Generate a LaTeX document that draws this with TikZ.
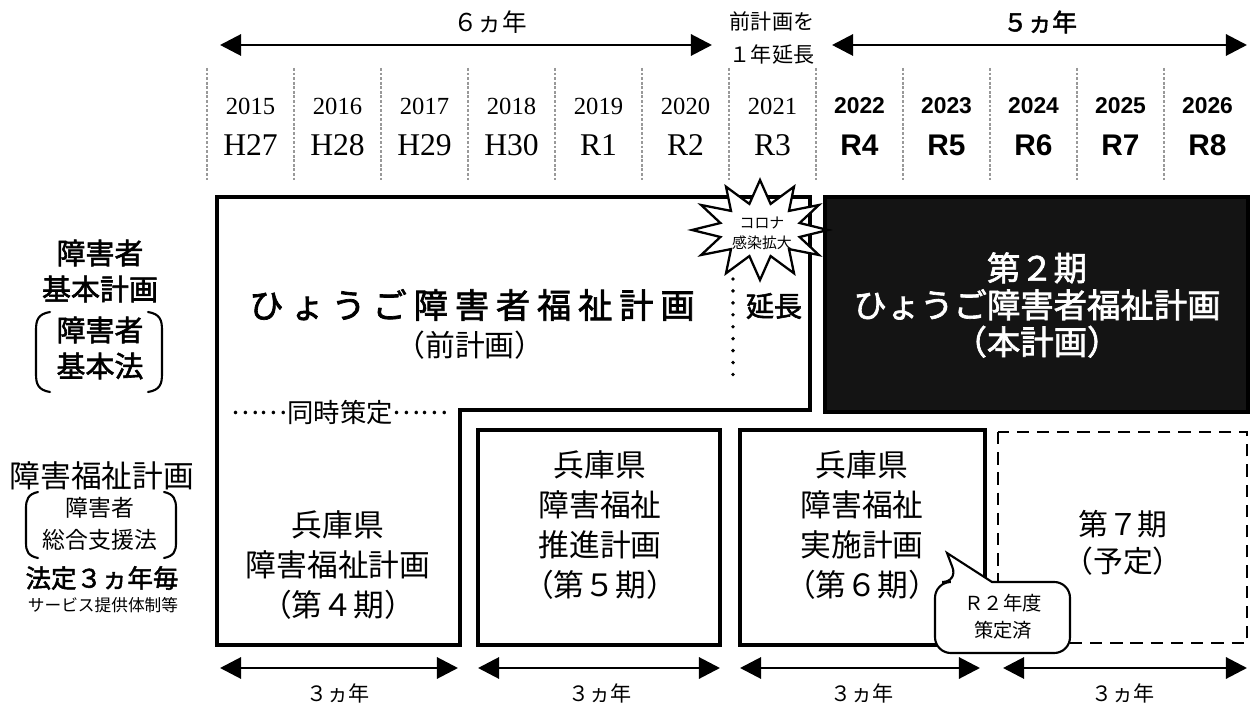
\documentclass[tikz,border=0pt]{standalone}
\usepackage{fontspec}
\setmainfont{Liberation Serif}
\newfontfamily\jp{Noto Sans CJK JP}
\newfontfamily\jpb[FakeBold=2]{Noto Sans CJK JP}
\newfontfamily\lsans{Liberation Sans}
\usetikzlibrary{arrows.meta}
\newcommand\fsz[2]{\fontsize{#1}{#2}\selectfont}
\newcommand\middots{\raisebox{0.3em}{……}}
\begin{document}
\begin{tikzpicture}[x=0.02cm,y=-0.02cm,
  lbl/.style={inner sep=0pt, align=center},
  span/.style={line width=1.7pt, {Triangle[length=12pt,width=12pt]}-{Triangle[length=12pt,width=12pt]}},
  planbox/.style={draw, line width=1.8pt},
  sepline/.style={draw=gray!80, line width=1.6pt, densely dotted},
  bracketline/.style={line width=1.2pt, line cap=round}]
\useasboundingbox (0,0) rectangle (1254,705);

% year separators
\foreach \i in {0,...,11} { \draw[sepline] (207+87*\i,68) -- (207+87*\i,182); }

% years
\foreach \y/\h [count=\i from 0] in {2015/H27,2016/H28,2017/H29,2018/H30,2019/R1,2020/R2,2021/R3} {
  \node[lbl, font=\fsz{14}{16}] (y\i) at (250.5+87*\i,106) {\y};
  \node[lbl, font=\fsz{18}{20}] (h\i) at (250.5+87*\i,145) {\h};
}
\foreach \y/\h [count=\i from 7] in {2022/R4,2023/R5,2024/R6,2025/R7,2026/R8} {
  \node[lbl, font=\lsans\bfseries\fsz{13}{16}] (y\i) at (250.5+87*\i,106) {\y};
  \node[lbl, font=\lsans\bfseries\fsz{17}{20}] (h\i) at (250.5+87*\i,145) {\h};
}

% top spans
\coordinate (a6l) at (220,45); \coordinate (a6r) at (712,45);
\draw[span] (a6l) -- (a6r);
\node[lbl, font=\jp\fsz{14}{16}] (t6) at (490,22) {６ヵ年};
\node[lbl, font=\jp\fsz{12}{18.7}] (ext) at (772,38) {前計画を\\１年延長};
\coordinate (a5l) at (832,45); \coordinate (a5r) at (1247,45);
\draw[span] (a5l) -- (a5r);
\node[lbl, font=\jpb\fsz{14}{16}] (t5) at (1040,22) {５ヵ年};

% previous plan (L shape)
\draw[planbox] (217,197) -- (810,197) -- (810,410) -- (460,410) -- (460,645) -- (217,645) -- cycle;
\node[lbl, font=\jpb\fsz{19.5}{22}\addfontfeature{LetterSpace=20}] (prev) at (472,305) {ひょうご障害者福祉計画};
\node[lbl, font=\jp\fsz{17}{20}] (prevsub) at (470,345) {（前計画）};
\draw[line width=2.2pt, line cap=round, dash pattern=on 0pt off 6.8pt] (733,267) -- (733,378);
\node[lbl, font=\jpb\fsz{16}{20}] (ench) at (774,306) {延長};
\node[lbl, font=\jp\fsz{15}{18}] (doji) at (340,412) {\middots 同時策定\middots};

% new plan (black)
\draw[fill=black!92, line width=2.5pt] (825,197) rectangle (1248,412);
\node[lbl, text=white, font=\jpb\fsz{19}{21}] (newp) at (1037,305) {第２期\\ひょうご障害者福祉計画\\（本計画）};

% corona burst
\draw[line width=1.3pt, fill=white, line join=miter] plot[samples at={0,15,...,345}, variable=\t]
  ({760+(mod(\t,30)==0 ? 68 : 41)*cos(\t)}, {230-(mod(\t,30)==0 ? 50 : 27)*sin(\t)}) -- cycle;
\node[lbl, font=\jp\fsz{8.5}{11.5}] (corona) at (762,233) {コロナ\\感染拡大};

% welfare plans
\node[lbl, font=\jp\fsz{17.5}{22.7}] (p4) at (338,565) {兵庫県\\障害福祉計画\\（第４期）};
\draw[planbox] (478,430) rectangle (720,645);
\node[lbl, font=\jp\fsz{17.5}{22.7}] (p5) at (600,525) {兵庫県\\障害福祉\\推進計画\\（第５期）};
\draw[planbox] (740,430) rectangle (985,645);
\node[lbl, font=\jp\fsz{17.5}{22.7}] (p6) at (862,525) {兵庫県\\障害福祉\\実施計画\\（第６期）};
\draw[planbox, line width=1.5pt, dash pattern=on 7pt off 4.5pt] (998,432) rectangle (1247,643);
\node[lbl, font=\jp\fsz{17}{21}] (p7) at (1123,543) {第７期\\（予定）};

% callout
\draw[fill=white, line width=1.2pt] (958,582) -- (947,553) -- (992,582) [rounded corners=9pt] -- (1070,582) -- (1070,653) -- (935,653) -- (935,582) -- cycle;
\node[lbl, font=\jp\fsz{11}{15.3}] (r2) at (1003,617) {Ｒ２年度\\策定済};

% bottom spans
\foreach \l/\r/\c [count=\i] in {220/458/338, 478/720/600, 740/980/862, 1003/1247/1123} {
  \coordinate (b\i l) at (\l,668); \coordinate (b\i r) at (\r,668);
  \draw[span] (b\i l) -- (b\i r);
  \node[lbl, font=\jp\fsz{12}{14}] (bt\i) at (\c,693) {３ヵ年};
}

% left labels
\node[lbl, font=\jpb\fsz{16.5}{20.5}] (law1) at (100,271) {障害者\\基本計画};
\node[lbl, font=\jpb\fsz{16.5}{20.5}] (law1b) at (100,348) {障害者\\基本法};
\draw[bracketline] (50,312) .. controls (38,314) and (36,320) .. (36,330) -- (36,374) .. controls (36,384) and (38,390) .. (50,392);
\draw[bracketline] (148,312) .. controls (160,314) and (162,320) .. (162,330) -- (162,374) .. controls (162,384) and (160,390) .. (148,392);

\node[lbl, font=\jp\fsz{17.5}{20}] (law2) at (102,476) {障害福祉計画};
\node[lbl, font=\jp\fsz{13}{18.5}] (law2b) at (100,524) {障害者\\総合支援法};
\draw[bracketline] (38,492) .. controls (28,494) and (26,500) .. (26,508) -- (26,543) .. controls (26,551) and (28,556) .. (38,558);
\draw[bracketline] (164,492) .. controls (174,494) and (176,500) .. (176,508) -- (176,543) .. controls (176,551) and (174,556) .. (164,558);
\node[lbl, font=\jpb\fsz{14.5}{16}] (law2c) at (102,578) {法定３ヵ年毎};
\node[lbl, font=\jp\fsz{9.5}{12}] (law2d) at (103,605) {サービス提供体制等};
\end{tikzpicture}
\end{document}
